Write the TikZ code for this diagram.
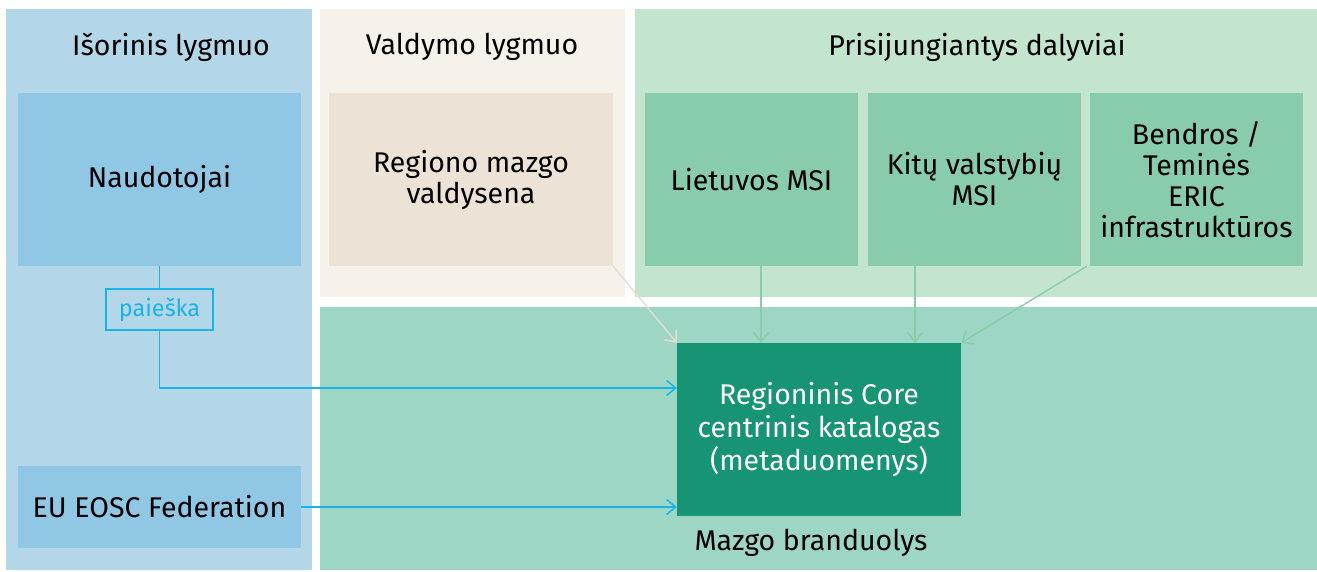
\documentclass[tikz,border=0pt]{standalone}
\usepackage{fontspec}
\setmainfont{Fira Sans}
\usetikzlibrary{arrows.meta}
\definecolor{pblue}{HTML}{B3D7E8}
\definecolor{bblue}{HTML}{8FC7E4}
\definecolor{pbeige}{HTML}{F6F2EA}
\definecolor{bbeige}{HTML}{ECE2D6}
\definecolor{pgreen}{HTML}{C3E4CD}
\definecolor{bgreen}{HTML}{88CCAC}
\definecolor{pteal}{HTML}{9DD6C4}
\definecolor{bteal}{HTML}{169474}
\definecolor{lblue}{HTML}{1BB4E6}
\definecolor{abeige}{HTML}{E6DCCF}
\tikzset{
  box/.style={inner sep=0pt, align=center, font=\fontsize{28.5}{31}\selectfont, text=black},
  ttl/.style={inner sep=0pt, font=\fontsize{28.5}{31}\selectfont, text=black},
  conn/.style={line width=1.3pt, -{Straight Barb[length=9pt,width=15pt,line width=1.5pt]}},
}
\begin{document}
\begin{tikzpicture}[x=1pt,y=-1pt]
\useasboundingbox (0,0) rectangle (1317,572);
\fill[white] (0,0) rectangle (1317,572);
% panels
\fill[pblue] (6,9) rectangle (312,570);
\fill[pbeige] (320,9) rectangle (625,297);
\fill[pgreen] (635,9) rectangle (1317,297);
\fill[pteal] (320,307) rectangle (1317,570);
% titles
\node[ttl] (t1) at (171,47) {Išorinis lygmuo};
\node[ttl] (t2) at (472,47) {Valdymo lygmuo};
\node[ttl] (t3) at (977,47) {Prisijungiantys dalyviai};
\node[ttl] (t4) at (811,543) {Mazgo branduolys};
% boxes
\node[box, fill=bblue, minimum width=283pt, minimum height=173pt] (nau) at (159.5,179.5) {Naudotojai};
\node[box, fill=bbeige, minimum width=284pt, minimum height=173pt] (reg) at (471,179.5) {Regiono mazgo\\valdysena};
\node[box, fill=bgreen, minimum width=213pt, minimum height=173pt] (lt) at (751.5,179.5) {Lietuvos MSI};
\node[box, fill=bgreen, minimum width=213pt, minimum height=173pt] (kit) at (974.5,179.5) {Kitų valstybių\\MSI};
\node[box, fill=bgreen, minimum width=213pt, minimum height=173pt] (ben) at (1196.5,179.5) {Bendros /\\Teminės\\ERIC\\infrastruktūros};
\node[box, fill=bblue, minimum width=283pt, minimum height=82pt] (eu) at (159.5,507) {EU EOSC Federation};
\node[box, fill=bteal, text=white, minimum width=284pt, minimum height=173pt, font=\fontsize{28.5}{33}\selectfont] (core) at (819,429.5) {Regioninis Core\\centrinis katalogas\\(metaduomenys)};
\node[draw=lblue, line width=1.3pt, text=lblue, inner sep=0pt, minimum width=107pt, minimum height=41pt, font=\fontsize{23.5}{26}\selectfont] (pai) at (159.5,309.5) {paieška};
% connectors
\draw[lblue, line width=1.3pt] (nau.south) -- (pai.north);
\draw[conn, lblue] (pai.south) |- ([yshift=41.5pt]core.west);
\draw[conn, lblue] (eu.east) -- (eu.east -| core.west);
\draw[conn, abeige] (reg.south east) -- (core.north west);
\draw[conn, bgreen] ([xshift=9.5pt]lt.south) -- ([xshift=9.5pt]lt.south |- core.north);
\draw[conn, bgreen] ([xshift=-59.5pt]kit.south) -- ([xshift=-59.5pt]kit.south |- core.north);
\draw[conn, bgreen] ([xshift=-3pt]ben.south west) -- (core.north east);
\end{tikzpicture}
\end{document}
